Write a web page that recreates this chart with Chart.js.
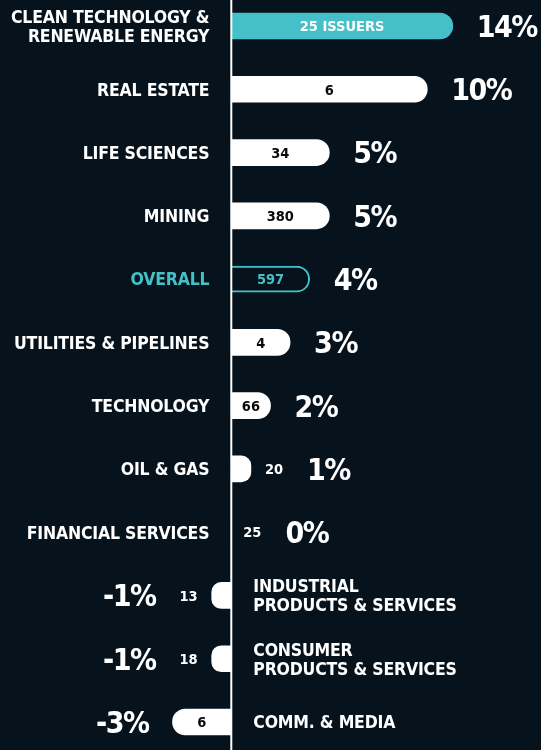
<!DOCTYPE html>
<html>
<head>
<meta charset="utf-8">
<script src="https://cdn.jsdelivr.net/npm/chart.js@4.4.1/dist/chart.umd.min.js"></script>
<style>
  html, body { margin: 0; padding: 0; background: #06121c; }
  #wrap { position: relative; width: 541px; height: 750px; }
</style>
</head>
<body>
<div id="wrap"><canvas id="sector-chart"></canvas></div>
<script>
const sectors = [
  ['CLEAN TECHNOLOGY &', 'RENEWABLE ENERGY'],
  'REAL ESTATE',
  'LIFE SCIENCES',
  'MINING',
  'OVERALL',
  'UTILITIES & PIPELINES',
  'TECHNOLOGY',
  'OIL & GAS',
  'FINANCIAL SERVICES',
  ['INDUSTRIAL', 'PRODUCTS & SERVICES'],
  ['CONSUMER', 'PRODUCTS & SERVICES'],
  'COMM. & MEDIA'
];
const returns = [14, 10, 5, 5, 4, 3, 2, 1, 0, -1, -1, -3];
const issuers = [25, 6, 34, 380, 597, 4, 66, 20, 25, 13, 18, 6];
// the original cuts the 14% bar short so its label still fits
const BAR_CAP = 11.3;

const BG = '#06121c';
const CYAN = '#45c0c8';
const WHITE = '#ffffff';
const FONT = '"DejaVu Sans Condensed", "DejaVu Sans", sans-serif';

function barColor(i) {
  if (i === 0) return CYAN;
  if (sectors[i] === 'OVERALL') return BG;
  return WHITE;
}

function countColor(i) {
  if (i === 0) return WHITE;
  if (sectors[i] === 'OVERALL') return CYAN;
  return '#0a0a0a';
}

function setFont(ctx, size, spacing = '0px') {
  ctx.font = `bold ${size}px ${FONT}`;
  ctx.letterSpacing = spacing;
}

// draws text vertically centred on the cap height
function capText(ctx, text, x, y, size) {
  ctx.fillText(text, x, y + size * 0.365);
}

const labelPlugin = {
  id: 'sectorLabels',
  afterDatasetsDraw(chart) {
    const { ctx } = chart;
    const meta = chart.getDatasetMeta(0);
    const x0 = chart.scales.x.getPixelForValue(0);

    ctx.save();
    ctx.fillStyle = WHITE;
    ctx.fillRect(x0 - 1, 0, 2, chart.height);

    meta.data.forEach((bar, i) => {
      const value = returns[i];
      const dir = value < 0 ? -1 : 1;
      const end = bar.x;
      const y = bar.y;
      const length = Math.abs(end - bar.base);

      // sector name on the opposite side of the axis
      const lines = Array.isArray(sectors[i]) ? sectors[i] : [sectors[i]];
      setFont(ctx, 17.5, '-0.2px');
      ctx.fillStyle = sectors[i] === 'OVERALL' ? CYAN : WHITE;
      ctx.textAlign = dir > 0 ? 'right' : 'left';
      const nameX = x0 - dir * 22;
      lines.forEach((line, k) => {
        capText(ctx, line, nameX, y + (k - (lines.length - 1) / 2) * 19, 17.5);
      });

      // issuer count, inside the bar if it fits
      const countText = i === 0 ? `${issuers[i]} ISSUERS` : String(issuers[i]);
      setFont(ctx, 14.5);
      const countW = ctx.measureText(countText).width;
      let outer = end;
      if (countW + 14 < length) {
        ctx.fillStyle = countColor(i);
        ctx.textAlign = 'center';
        capText(ctx, countText, (end + bar.base) / 2, y, 14.5);
      } else {
        const cx = end + dir * (value === 0 ? 12 : 14);
        ctx.fillStyle = WHITE;
        ctx.textAlign = dir > 0 ? 'left' : 'right';
        capText(ctx, countText, cx, y, 14.5);
        outer = cx + dir * countW;
      }

      // return percentage
      setFont(ctx, 30, '-1.5px');
      ctx.fillStyle = WHITE;
      ctx.textAlign = dir > 0 ? 'left' : 'right';
      capText(ctx, `${value}%`, outer + dir * 24, y, 30);
    });
    ctx.restore();
  }
};

new Chart(document.getElementById('sector-chart'), {
  type: 'bar',
  data: {
    labels: sectors,
    datasets: [{
      data: returns.map((v) => Math.min(v, BAR_CAP)),
      backgroundColor: returns.map((v, i) => barColor(i)),
      borderColor: returns.map((v, i) => (sectors[i] === 'OVERALL' ? CYAN : barColor(i))),
      borderWidth: returns.map((v, i) => (sectors[i] === 'OVERALL' ? 2 : 0)),
      borderSkipped: 'start',
      borderRadius: 13,
      barThickness: 26,
      clip: false
    }]
  },
  options: {
    indexAxis: 'y',
    responsive: true,
    maintainAspectRatio: false,
    animation: false,
    layout: { padding: { top: 26, bottom: 28, left: 0, right: 0 } },
    plugins: {
      legend: { display: false },
      tooltip: { enabled: false }
    },
    scales: {
      x: { display: false, min: -11.8, max: 15.8 },
      y: { display: false, offset: false }
    }
  },
  plugins: [labelPlugin]
});
</script>
</body>
</html>
